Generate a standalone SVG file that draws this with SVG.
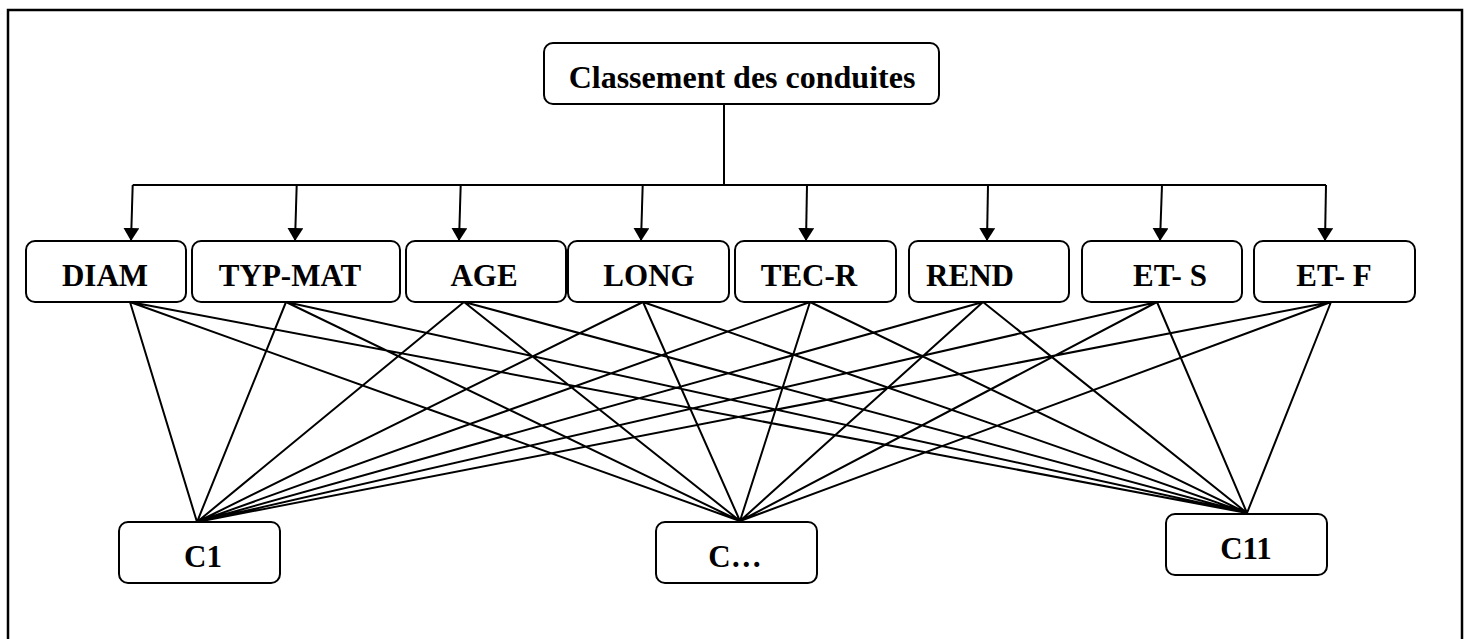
<svg xmlns="http://www.w3.org/2000/svg" width="1469" height="639" viewBox="0 0 1469 639">
<style>
.box{fill:#fff;stroke:#000;stroke-width:2}
.t{font-family:"Liberation Serif","Times New Roman",serif;font-weight:bold;font-size:31px;fill:#000;text-anchor:middle}
.c{stroke:#000;stroke-width:2;fill:none}
</style>
<defs>
<marker id="ah" viewBox="0 0 13 16" refX="13" refY="8" markerWidth="13" markerHeight="16" markerUnits="userSpaceOnUse" orient="auto">
<path d="M0,0 L13,8 L0,16 z" fill="#000"/>
</marker>
</defs>
<rect x="8" y="10" width="1454" height="650" fill="#fff" stroke="#000" stroke-width="2.5"/>
<g id="connectors">
<path class="c" d="M724,104 V185 M132.7,185 H1326"/>
<line class="c" x1="132.7" y1="185" x2="131" y2="241" marker-end="url(#ah)"/>
<line class="c" x1="296.7" y1="185" x2="295" y2="241" marker-end="url(#ah)"/>
<line class="c" x1="460.7" y1="185" x2="459" y2="241" marker-end="url(#ah)"/>
<line class="c" x1="642.7" y1="185" x2="641" y2="241" marker-end="url(#ah)"/>
<line class="c" x1="807" y1="185" x2="806" y2="241" marker-end="url(#ah)"/>
<line class="c" x1="988" y1="185" x2="987" y2="241" marker-end="url(#ah)"/>
<line class="c" x1="1162" y1="185" x2="1160" y2="241" marker-end="url(#ah)"/>
<line class="c" x1="1326" y1="185" x2="1325" y2="241" marker-end="url(#ah)"/>
<path class="c" d="M130,302 L197,522 M130,302 L740,521 M130,302 L1247,513
M286,302 L197,522 M286,302 L740,521 M286,302 L1247,513
M464,302 L197,522 M464,302 L740,521 M464,302 L1247,513
M643,302 L197,522 M643,302 L740,521 M643,302 L1247,513
M810,302 L197,522 M810,302 L740,521 M810,302 L1247,513
M983,302 L197,522 M983,302 L740,521 M983,302 L1247,513
M1157,302 L197,522 M1157,302 L740,521 M1157,302 L1247,513
M1331,302 L197,522 M1331,302 L740,521 M1331,302 L1247,513"/>
</g>
<g id="root"><rect class="box" x="544" y="43" width="395" height="61" rx="9"/><text class="t" x="742" y="88" style="font-size:32px">Classement des conduites</text></g>
<g id="diam"><rect class="box" x="26" y="241" width="160" height="61" rx="9"/><text class="t" x="105" y="286">DIAM</text></g>
<g id="typmat"><rect class="box" x="192" y="241" width="208" height="61" rx="9"/><text class="t" x="290" y="286">TYP-MAT</text></g>
<g id="age"><rect class="box" x="406" y="241" width="160" height="61" rx="9"/><text class="t" x="484" y="286">AGE</text></g>
<g id="long"><rect class="box" x="568" y="241" width="161" height="61" rx="9"/><text class="t" x="649" y="286">LONG</text></g>
<g id="tecr"><rect class="box" x="735" y="241" width="161" height="61" rx="9"/><text class="t" x="809" y="286">TEC-R</text></g>
<g id="rend"><rect class="box" x="909" y="241" width="160" height="61" rx="9"/><text class="t" x="970" y="286">REND</text></g>
<g id="ets"><rect class="box" x="1082" y="241" width="160" height="61" rx="9"/><text class="t" x="1170" y="286">ET- S</text></g>
<g id="etf"><rect class="box" x="1254" y="241" width="161" height="61" rx="9"/><text class="t" x="1334" y="286">ET- F</text></g>
<g id="c1"><rect class="box" x="119" y="522" width="161" height="61" rx="9"/><text class="t" x="203" y="567">C1</text></g>
<g id="cdots"><rect class="box" x="656" y="522" width="161" height="61" rx="9"/><text class="t" x="735" y="567">C…</text></g>
<g id="c11"><rect class="box" x="1166" y="514" width="161" height="61" rx="9"/><text class="t" x="1246" y="559">C11</text></g>
</svg>
